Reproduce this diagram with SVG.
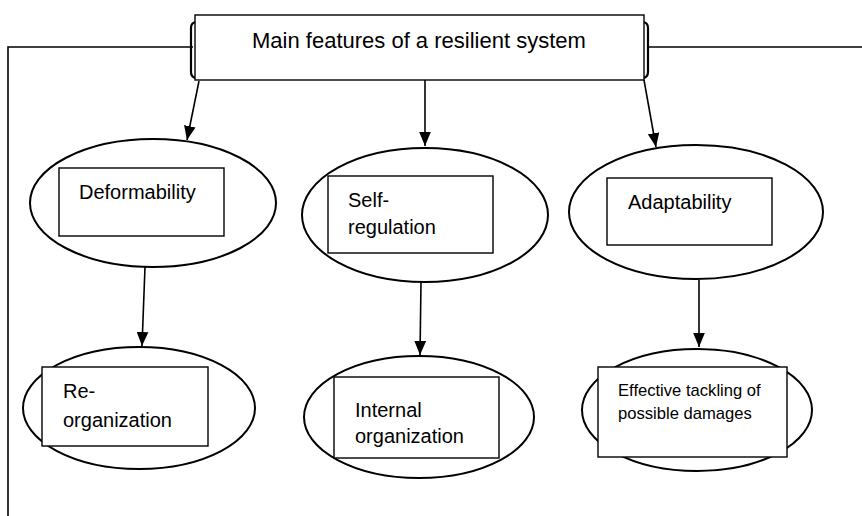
<svg xmlns="http://www.w3.org/2000/svg" width="862" height="516" viewBox="0 0 862 516">
<style>
.ln{fill:none;stroke:#000;stroke-width:1.6}
.el{fill:#fff;stroke:#000;stroke-width:2}
.bx{fill:#fff;stroke:#000;stroke-width:1.4}
.t{font-family:"Liberation Sans",Arial,sans-serif;font-size:20px;fill:#000}
.ts{font-family:"Liberation Sans",Arial,sans-serif;font-size:16.6px;fill:#000}
</style>
<defs>
<marker id="a" viewBox="0 0 12 10" refX="12" refY="5" markerWidth="14" markerHeight="12" markerUnits="userSpaceOnUse" orient="auto">
<path d="M0,0 L12,5 L0,10 z" fill="#000"/>
</marker>
</defs>
<rect width="862" height="516" fill="#fff"/>
<g id="connectors">
<polyline class="ln" points="193,47 8,47 8,516"/>
<line class="ln" x1="648" y1="47" x2="862" y2="47"/>
<line class="ln" x1="199" y1="81" x2="187" y2="140" marker-end="url(#a)"/>
<line class="ln" x1="425" y1="80" x2="425" y2="146" marker-end="url(#a)"/>
<line class="ln" x1="644" y1="80" x2="656" y2="147" marker-end="url(#a)"/>
<line class="ln" x1="145" y1="267" x2="142" y2="346" marker-end="url(#a)"/>
<line class="ln" x1="421" y1="282" x2="420" y2="355" marker-end="url(#a)"/>
<line class="ln" x1="699" y1="280" x2="699" y2="347" marker-end="url(#a)"/>
</g>
<g id="main">
<path d="M197,22 Q191,22 191,28 L191,72 Q191,78 197,78" fill="none" stroke="#000" stroke-width="2.2"/>
<path d="M642,22 Q648,22 648,28 L648,72 Q648,78 642,78" fill="none" stroke="#000" stroke-width="2.2"/>
<rect class="bx" x="195" y="15" width="449" height="65"/>
<text class="t" x="252" y="48" style="font-size:22px">Main features of a resilient system</text>
</g>
<g id="deformability">
<ellipse class="el" cx="153" cy="203" rx="123" ry="64"/>
<rect class="bx" x="59" y="168" width="165" height="68"/>
<text class="t" x="79" y="199">Deformability</text>
</g>
<g id="self-regulation">
<ellipse class="el" cx="425" cy="215" rx="123" ry="67"/>
<rect class="bx" x="328" y="176" width="165" height="77"/>
<text class="t" x="348" y="207">Self-</text>
<text class="t" x="348" y="234">regulation</text>
</g>
<g id="adaptability">
<ellipse class="el" cx="696" cy="212" rx="127" ry="67"/>
<rect class="bx" x="607" y="178" width="165" height="67"/>
<text class="t" x="628" y="209">Adaptability</text>
</g>
<g id="re-organization">
<ellipse class="el" cx="139" cy="408" rx="116" ry="61"/>
<rect class="bx" x="42" y="367" width="166" height="79"/>
<text class="t" x="63" y="398">Re-</text>
<text class="t" x="63" y="427">organization</text>
</g>
<g id="internal-organization">
<ellipse class="el" cx="419" cy="417" rx="115" ry="61"/>
<rect class="bx" x="334" y="377" width="165" height="81"/>
<text class="t" x="355" y="417">Internal</text>
<text class="t" x="355" y="443">organization</text>
</g>
<g id="effective-tackling">
<ellipse class="el" cx="697" cy="410" rx="115" ry="61"/>
<rect class="bx" x="598" y="367" width="189" height="90"/>
<text class="ts" x="618" y="396">Effective tackling of</text>
<text class="ts" x="618" y="419">possible damages</text>
</g>
</svg>
